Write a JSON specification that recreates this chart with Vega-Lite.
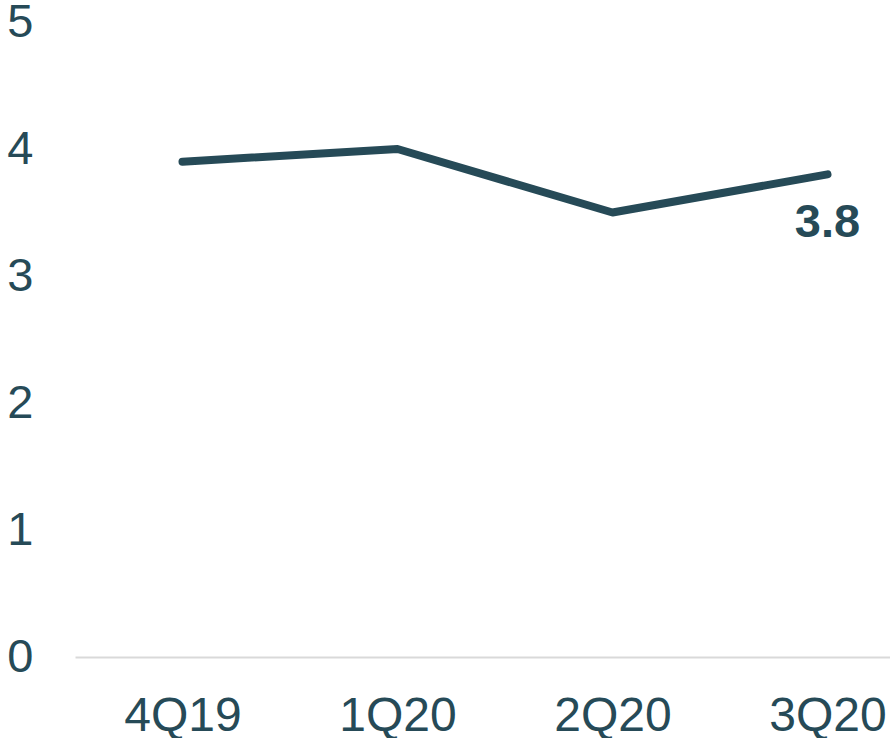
{
  "$schema": "https://vega.github.io/schema/vega-lite/v6.json",
  "autosize": "none",
  "width": 860,
  "height": 635,
  "padding": {"left": 75, "top": 22, "right": 0, "bottom": 81},
  "background": "white",
  "config": {"view": {"stroke": null}, "font": "Liberation Sans"},
  "data": {"values": [
    {"q": "4Q19", "v": 3.9, "label": ""},
    {"q": "1Q20", "v": 4.0, "label": ""},
    {"q": "2Q20", "v": 3.5, "label": ""},
    {"q": "3Q20", "v": 3.8, "label": "3.8"}
  ]},
  "encoding": {
    "x": {"field": "q", "type": "nominal", "sort": null,
      "scale": {"type": "point", "padding": 0.5},
      "axis": {"title": null, "labelAngle": 0, "ticks": false, "domain": true, "domainColor": "#D9D9D9", "domainWidth": 2,
        "labelFontSize": 48, "labelColor": "#264A57", "labelPadding": 35, "labelFont": "Liberation Sans", "grid": false}},
    "y": {"field": "v", "type": "quantitative",
      "scale": {"domain": [0, 5], "nice": false, "zero": true},
      "axis": {"title": null, "ticks": false, "domain": false, "grid": false, "values": [0, 1, 2, 3, 4, 5],
        "labelFontSize": 47, "labelColor": "#264A57", "labelPadding": 42, "labelFont": "Liberation Sans"}}
  },
  "layer": [
    {"mark": {"type": "line", "color": "#264A57", "strokeWidth": 8, "strokeCap": "round", "strokeJoin": "round"}},
    {"mark": {"type": "text", "fontSize": 47, "fontWeight": "bold", "color": "#264A57", "baseline": "alphabetic", "dy": 63, "align": "center"},
      "encoding": {"text": {"field": "label"}}}
  ]
}
